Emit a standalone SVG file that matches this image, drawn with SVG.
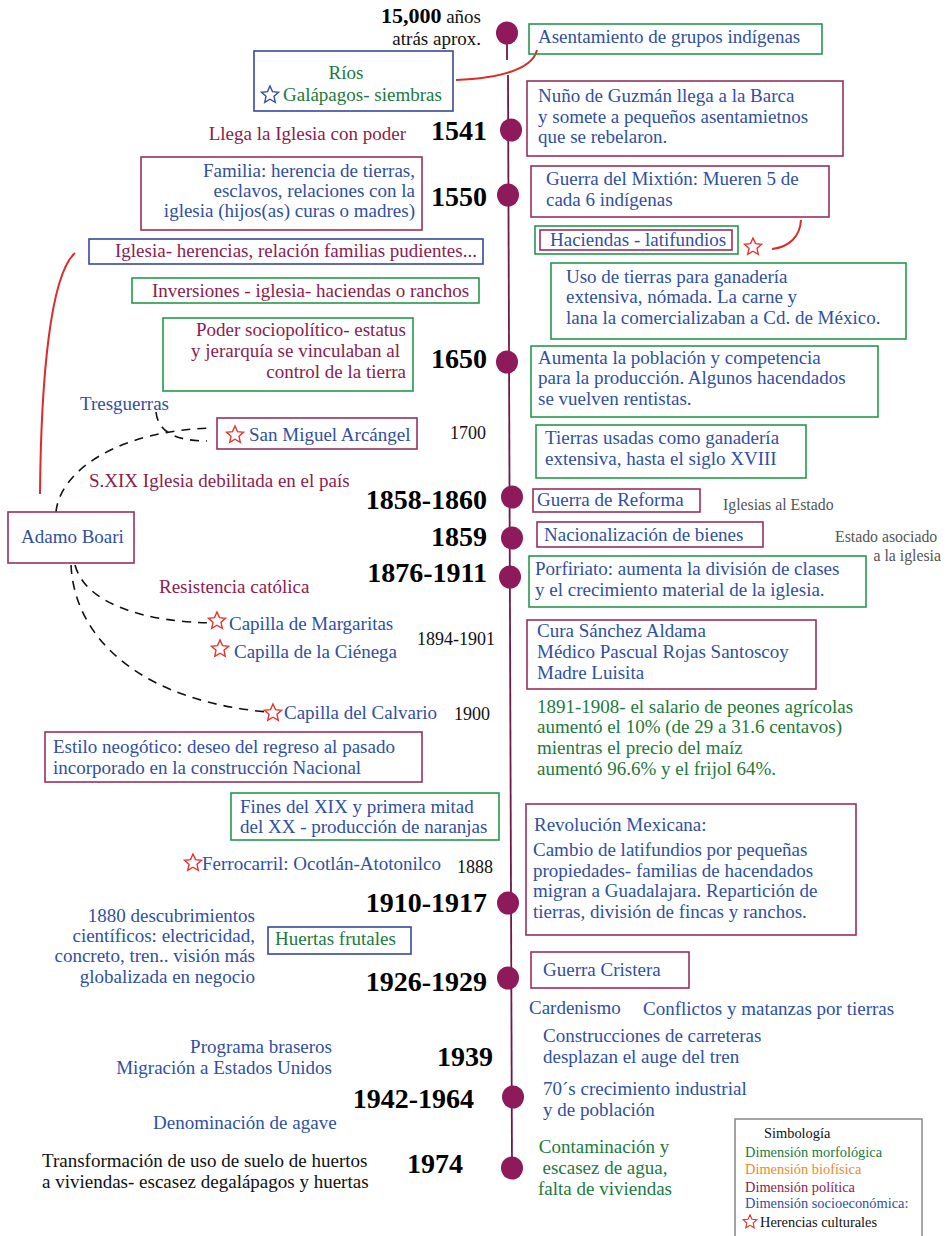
<svg xmlns="http://www.w3.org/2000/svg" width="947" height="1236" viewBox="0 0 947 1236">
<style>
text{font-family:"Liberation Serif","Times New Roman",serif;font-size:19px}
.b{fill:#2f50a3}.p{fill:#8b1c50}.g{fill:#1c7a3c}.k{fill:#111}.gy{fill:#555;font-size:15.8px}
.yr{font-weight:bold;font-size:28px;fill:#000}
.sm{font-size:18px}
.lg{font-size:14.4px}
.r{text-anchor:end}.m{text-anchor:middle}
.bp{fill:none;stroke:#9c2f5e;stroke-width:1.6}
.bg{fill:none;stroke:#23994c;stroke-width:1.6}
.bb{fill:none;stroke:#3548a0;stroke-width:1.6}
.dot{fill:#8e1a5c}
.tl{stroke:#6e1a48;stroke-width:1.8;fill:none}
.red{fill:none;stroke:#dd2a2a;stroke-width:2}
.dash{fill:none;stroke:#111;stroke-width:1.6;stroke-dasharray:9 7}
.sr{fill:#fff;stroke:#e8332f;stroke-width:1.4}
.sb{fill:#fff;stroke:#2f50a3;stroke-width:1.4}
</style>
<defs>
<path id="star" d="M0,-9 L2.5,-3.4 8.56,-2.78 4,1.3 5.29,7.28 0,4.2 -5.29,7.28 -4,1.3 -8.56,-2.78 -2.5,-3.4Z"/>
</defs>
<rect width="947" height="1236" fill="#fff"/>

<g id="connectors">
<path class="tl" d="M507,27 L507,60"/>
<path class="tl" d="M508,75 L512,1168"/>
<path class="red" d="M456,80 C500,78 532,70 537,50"/>
<path class="red" d="M772,249 C790,247 800,236 801,220"/>
<path class="red" d="M40,494 C41,380 50,275 75,253"/>
<path class="dash" d="M56,512 C60,470 120,430 213,428"/>
<path class="dash" d="M156,412 C158,432 176,441 207,441"/>
<path class="dash" d="M75,565 C85,602 140,623 220,623"/>
<path class="dash" d="M71,565 C75,645 150,702 268,712"/>
</g>

<g id="timeline-dots">
<ellipse class="dot" cx="507" cy="33" rx="11" ry="11.5"/>
<ellipse class="dot" cx="511" cy="130" rx="11" ry="11.5"/>
<ellipse class="dot" cx="508" cy="195" rx="11" ry="11.5"/>
<ellipse class="dot" cx="507" cy="362" rx="11" ry="11.5"/>
<ellipse class="dot" cx="512" cy="497" rx="11" ry="11.5"/>
<ellipse class="dot" cx="512" cy="538" rx="11" ry="11.5"/>
<ellipse class="dot" cx="510" cy="577" rx="11" ry="11.5"/>
<ellipse class="dot" cx="508" cy="903" rx="11" ry="11.5"/>
<ellipse class="dot" cx="508" cy="978" rx="11" ry="11.5"/>
<ellipse class="dot" cx="513" cy="1097" rx="11" ry="11.5"/>
<ellipse class="dot" cx="512" cy="1168" rx="11" ry="11.5"/>
</g>

<g id="years">
<text x="481" y="23" class="r"><tspan class="yr" style="font-size:22px">15,000</tspan><tspan class="k"> años</tspan></text>
<text x="481" y="45" class="r k">atrás aprox.</text>
<text x="487" y="140" class="yr r">1541</text>
<text x="487" y="206" class="yr r">1550</text>
<text x="487" y="368" class="yr r">1650</text>
<text x="487" y="509" class="yr r">1858-1860</text>
<text x="487" y="546" class="yr r">1859</text>
<text x="487" y="582" class="yr r">1876-1911</text>
<text x="487" y="912" class="yr r">1910-1917</text>
<text x="487" y="991" class="yr r">1926-1929</text>
<text x="493" y="1066" class="yr r">1939</text>
<text x="474" y="1108" class="yr r">1942-1964</text>
<text x="463" y="1173" class="yr r">1974</text>
<text x="450" y="439" class="k sm">1700</text>
<text x="417" y="645" class="k sm">1894-1901</text>
<text x="454" y="720" class="k sm">1900</text>
<text x="457" y="873" class="k sm">1888</text>
</g>

<g id="n-asentamiento"><rect class="bg" x="529" y="24" width="293" height="30"/><text x="538" y="43" class="b">Asentamiento de grupos indígenas</text></g>
<g id="n-rios"><rect class="bb" x="254" y="51" width="199" height="60"/><text x="346" y="79" class="g m">Ríos</text><use href="#star" x="270" y="95" class="sb"/><text x="283" y="101" class="g">Galápagos- siembras</text></g>
<g id="n-llega"><text x="406" y="140" class="p r">Llega la Iglesia con poder</text></g>
<g id="n-nuno"><rect class="bp" x="527" y="81" width="316" height="75"/><text class="b"><tspan x="538" y="102">Nuño de Guzmán llega a la Barca</tspan><tspan x="538" y="123">y somete a pequeños asentamietnos</tspan><tspan x="538" y="143">que se rebelaron.</tspan></text></g>
<g id="n-familia"><rect class="bp" x="141" y="157" width="281" height="73"/><text class="b r"><tspan x="415" y="177">Familia: herencia de tierras,</tspan><tspan x="415" y="197">esclavos, relaciones con la</tspan><tspan x="415" y="217">iglesia (hijos(as) curas o madres)</tspan></text></g>
<g id="n-mixtion"><rect class="bp" x="531" y="166" width="298" height="51"/><text class="b"><tspan x="546" y="185">Guerra del Mixtión:  Mueren 5 de</tspan><tspan x="546" y="206">cada 6 indígenas</tspan></text></g>
<g id="n-haciendas"><rect class="bg" x="535" y="226" width="203" height="28"/><rect class="bp" x="540" y="230" width="192" height="20"/><text x="550" y="246" class="b">Haciendas - latifundios</text><use href="#star" x="753" y="247" class="sr"/></g>
<g id="n-iglesia-herencias"><rect class="bb" x="89" y="239" width="394" height="25"/><text x="115" y="257" class="p">Iglesia- herencias, relación familias pudientes...</text></g>
<g id="n-uso"><rect class="bg" x="551" y="263" width="355" height="76"/><text class="b"><tspan x="566" y="283">Uso de tierras para ganadería</tspan><tspan x="566" y="303">extensiva, nómada. La carne y</tspan><tspan x="566" y="324">lana la comercializaban a Cd. de México.</tspan></text></g>
<g id="n-inversiones"><rect class="bg" x="132" y="278" width="347" height="25"/><text x="152" y="297" class="p">Inversiones - iglesia- haciendas o ranchos</text></g>
<g id="n-poder"><rect class="bg" x="163" y="318" width="250" height="73"/><text class="p r"><tspan x="406" y="336">Poder sociopolítico- estatus</tspan><tspan x="400" y="357">y jerarquía se vinculaban al</tspan><tspan x="406" y="378">control de la tierra</tspan></text></g>
<g id="n-aumenta"><rect class="bg" x="531" y="346" width="347" height="71"/><text class="b"><tspan x="538" y="364">Aumenta la población y competencia</tspan><tspan x="538" y="384">para la producción. Algunos hacendados</tspan><tspan x="538" y="405">se vuelven rentistas.</tspan></text></g>
<g id="n-tresguerras"><text x="80" y="410" class="b">Tresguerras</text></g>
<g id="n-sanmiguel"><rect class="bp" x="217" y="418" width="200" height="31"/><use href="#star" x="235" y="435" class="sr"/><text x="249" y="441" class="b">San Miguel Arcángel</text></g>
<g id="n-tierras"><rect class="bg" x="536" y="425" width="270" height="53"/><text class="b"><tspan x="545" y="444">Tierras usadas como ganadería</tspan><tspan x="545" y="465">extensiva, hasta el siglo XVIII</tspan></text></g>
<g id="n-sxix"><text x="89" y="487" class="p">S.XIX Iglesia debilitada en el país</text></g>
<g id="n-reforma"><rect class="bp" x="533" y="489" width="167" height="23"/><text x="537" y="506" class="b">Guerra de Reforma</text><text x="723" y="510" class="gy">Iglesias al Estado</text></g>
<g id="n-nacionalizacion"><rect class="bp" x="537" y="522" width="226" height="25"/><text x="544" y="541" class="b">Nacionalización de bienes</text></g>
<g id="n-estado"><text x="835" y="542" class="gy">Estado asociado</text><text x="941" y="561" class="gy r">a la iglesia</text></g>
<g id="n-porfiriato"><rect class="bg" x="529" y="556" width="337" height="51"/><text class="b"><tspan x="535" y="575">Porfiriato: aumenta la división de clases</tspan><tspan x="535" y="596">y el crecimiento material de la iglesia.</tspan></text></g>
<g id="n-adamo"><rect class="bp" x="8" y="512" width="126" height="51"/><text x="21" y="543" class="b">Adamo Boari</text></g>
<g id="n-resistencia"><text x="159" y="593" class="p">Resistencia católica</text></g>
<g id="n-margaritas"><use href="#star" x="217" y="621" class="sr"/><text x="229" y="630" class="b">Capilla de Margaritas</text></g>
<g id="n-cienega"><use href="#star" x="220" y="649" class="sr"/><text x="234" y="658" class="b">Capilla de la Ciénega</text></g>
<g id="n-calvario"><use href="#star" x="273" y="713" class="sr"/><text x="284" y="719" class="b">Capilla del Calvario</text></g>
<g id="n-cura"><rect class="bp" x="527" y="620" width="289" height="69"/><text class="b"><tspan x="537" y="637">Cura Sánchez Aldama</tspan><tspan x="537" y="658">Médico Pascual Rojas Santoscoy</tspan><tspan x="537" y="679">Madre Luisita</tspan></text></g>
<g id="n-salario"><text class="g"><tspan x="537" y="713">1891-1908- el salario de peones agrícolas</tspan><tspan x="537" y="733">aumentó el 10% (de 29 a 31.6 centavos)</tspan><tspan x="537" y="754">mientras el precio del maíz</tspan><tspan x="537" y="775">aumentó 96.6% y el frijol 64%.</tspan></text></g>
<g id="n-neogotico"><rect class="bp" x="45" y="732" width="377" height="50"/><text class="b"><tspan x="53" y="753">Estilo neogótico: deseo del regreso al pasado</tspan><tspan x="53" y="774">incorporado en la construcción Nacional</tspan></text></g>
<g id="n-fines"><rect class="bg" x="231" y="793" width="268" height="47"/><text class="b"><tspan x="240" y="813">Fines del XIX y primera mitad</tspan><tspan x="240" y="833">del XX - producción de naranjas</tspan></text></g>
<g id="n-ferrocarril"><use href="#star" x="193" y="863" class="sr"/><text x="202" y="870" class="b">Ferrocarril: Ocotlán-Atotonilco</text></g>
<g id="n-revolucion"><rect class="bp" x="526" y="804" width="330" height="131"/><text class="b"><tspan x="534" y="831">Revolución Mexicana:</tspan><tspan x="533" y="856">Cambio de latifundios por pequeñas</tspan><tspan x="533" y="877">propiedades- familias de hacendados</tspan><tspan x="533" y="897">migran a Guadalajara. Repartición de</tspan><tspan x="533" y="918">tierras, división de fincas y ranchos.</tspan></text></g>
<g id="n-1880"><text class="b r"><tspan x="255" y="922">1880 descubrimientos</tspan><tspan x="255" y="942">científicos: electricidad,</tspan><tspan x="255" y="962">concreto, tren.. visión más</tspan><tspan x="255" y="983">globalizada en negocio</tspan></text></g>
<g id="n-huertas"><rect class="bb" x="268" y="927" width="143" height="27"/><text x="275" y="945" class="g">Huertas frutales</text></g>
<g id="n-cristera"><rect class="bp" x="531" y="952" width="158" height="36"/><text x="543" y="976" class="b">Guerra Cristera</text></g>
<g id="n-cardenismo"><text x="529" y="1014" class="b">Cardenismo</text><text x="643" y="1015" class="b">Conflictos y matanzas por tierras</text></g>
<g id="n-carreteras"><text class="b"><tspan x="543" y="1042">Construcciones de carreteras</tspan><tspan x="543" y="1063">desplazan el auge del tren</tspan></text></g>
<g id="n-braseros"><text class="b r"><tspan x="332" y="1053">Programa braseros</tspan><tspan x="332" y="1074">Migración a Estados Unidos</tspan></text></g>
<g id="n-70s"><text class="b"><tspan x="543" y="1095">70´s crecimiento industrial</tspan><tspan x="543" y="1116">y de población</tspan></text></g>
<g id="n-agave"><text x="153" y="1129" class="b">Denominación de agave</text></g>
<g id="n-transformacion"><text class="k"><tspan x="42" y="1167">Transformación de uso de suelo de huertos</tspan><tspan x="42" y="1188">a viviendas- escasez degalápagos y huertas</tspan></text></g>
<g id="n-contaminacion"><text class="g m"><tspan x="604" y="1153">Contaminación y</tspan><tspan x="605" y="1174">escasez de agua,</tspan><tspan x="605" y="1195">falta de viviendas</tspan></text></g>
<g id="legend"><rect x="735" y="1119" width="187" height="125" fill="#fff" stroke="#888" stroke-width="1.5"/>
<text x="764" y="1138" class="lg k">Simbología</text>
<text x="745" y="1157" class="lg g">Dimensión morfológica</text>
<text x="745" y="1174" class="lg" fill="#ee8a2e">Dimensión biofísica</text>
<text x="745" y="1192" class="lg p">Dimensión política</text>
<text x="745" y="1208" class="lg b">Dimensión socioeconómica:</text>
<use href="#star" x="750" y="1222" class="sr" transform="translate(750 1222) scale(0.8) translate(-750 -1222)"/>
<text x="760" y="1227" class="lg k">Herencias culturales</text></g>
</svg>
